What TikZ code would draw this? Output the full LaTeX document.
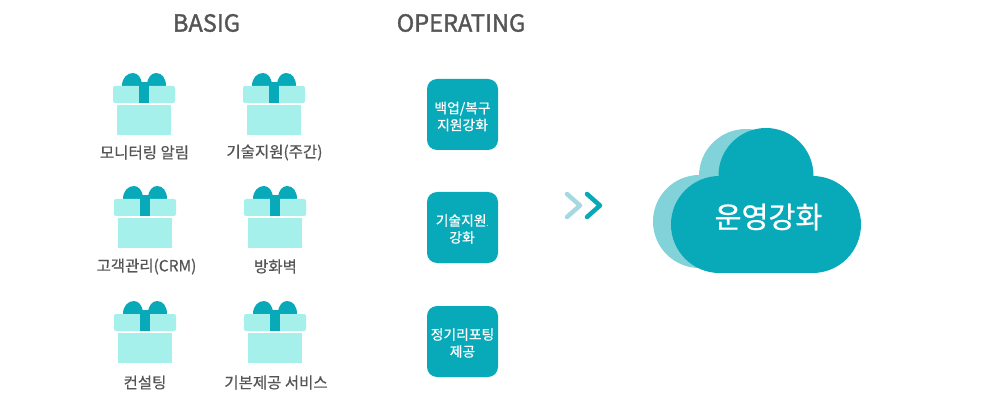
\documentclass[tikz,border=0pt]{standalone}
\usepackage{fontspec}
\setmainfont{Noto Sans CJK KR}
\newfontfamily\medfont[FakeBold=0.6]{Noto Sans CJK KR}
\newfontfamily\headfont[FakeBold=1.4]{Noto Sans CJK KR}
\definecolor{teal1}{HTML}{08A9B9}
\definecolor{mint}{HTML}{A6F0EB}
\definecolor{cloudback}{HTML}{81D3D9}
\definecolor{chevlight}{HTML}{A6D9DF}
\definecolor{txt}{HTML}{555555}
\tikzset{
  x=1pt,y=-1pt,
  head/.style={text=txt,font=\headfont\fontsize{23.6}{26}\selectfont,anchor=center,inner sep=0pt},
  label/.style={text=txt,font=\medfont\fontsize{15.5}{17}\selectfont,anchor=center,inner sep=0pt},
  tile/.style={fill=teal1,draw=none,rounded corners=10pt,minimum width=71pt,minimum height=71pt,inner sep=0pt},
  tiletext/.style={text=white,align=center,inner sep=0pt,font=\medfont\fontsize{13.8}{17}\selectfont},
  chev/.style={line width=4.5pt,line cap=round,line join=round},
  pics/gift/.style={code={
    \fill[teal1] (9,13) .. controls (9,5) and (14,0) .. (20,0) .. controls (25,0) and (28,5) .. (29,10)
      -- (34,10) .. controls (35,5) and (38,0) .. (43,0) .. controls (49,0) and (53,5) .. (53,13) -- cycle;
    \fill[mint,rounded corners=2pt] (0,13) rectangle (62,30);
    \fill[mint] (4,32) rectangle (58,62);
    \fill[teal1] (26,9) rectangle (36,30);
  }}
}
\begin{document}
\begin{tikzpicture}
\useasboundingbox (0,0) rectangle (1005,417);
\node[head] (h1) at (206.5,23) {BASIG};
\node[head] (h2) at (461,23) {OPERATING};
\pic at (113,73) {gift};
\pic at (243,73) {gift};
\pic at (114,186) {gift};
\pic at (244,186) {gift};
\pic at (114,301) {gift};
\pic at (244,301) {gift};
\node[label] (a) at (144.5,152.5) {모니터링 알림};
\node[label] (b) at (274.5,152.5) {기술지원(주간)};
\node[label] (c) at (146.5,266.5) {고객관리(CRM)};
\node[label] (d) at (275.5,266.5) {방화벽};
\node[label] (e) at (145,382.5) {컨설팅};
\node[label] (f) at (276,382.5) {기본제공 서비스};
\node[tile] (t1) at (462.5,114.5) {};
\node[tile] (t2) at (462.5,227.5) {};
\node[tile] (t3) at (462.5,341.5) {};
\node[tiletext] (t1x) at ([yshift=-2pt]t1.center) {백업/복구\\지원강화};
\node[tiletext] (t2x) at ([yshift=-1.5pt,xshift=-0.5pt]t2.center) {기술지원{\fontsize{6}{6}\selectfont.}\\강화};
\node[tiletext] (t3x) at ([yshift=-1.5pt]t3.center) {정기리포팅\\제공};
\draw[chev,chevlight] (567,194) -- (580,205.5) -- (567,217);
\draw[chev,teal1] (587,194) -- (600,205.5) -- (587,217);
% cloud back
\fill[cloudback] (699.5,221.5) circle[radius=46.5];
\fill[cloudback] (746,176) circle[radius=47];
\fill[cloudback] (699.5,175) rectangle (780,268);
% cloud front
\fill[teal1] (719.5,224.5) circle[radius=48.5];
\fill[teal1] (812.5,224.5) circle[radius=48.5];
\fill[teal1] (766,175.5) circle[radius=47.5];
\fill[teal1] (719.5,176) rectangle (812.5,273);
\node[text=white,font=\medfont\fontsize{29.3}{32}\selectfont,inner sep=0pt] (cl) at (768.5,217) {운영강화};
\end{tikzpicture}
\end{document}
